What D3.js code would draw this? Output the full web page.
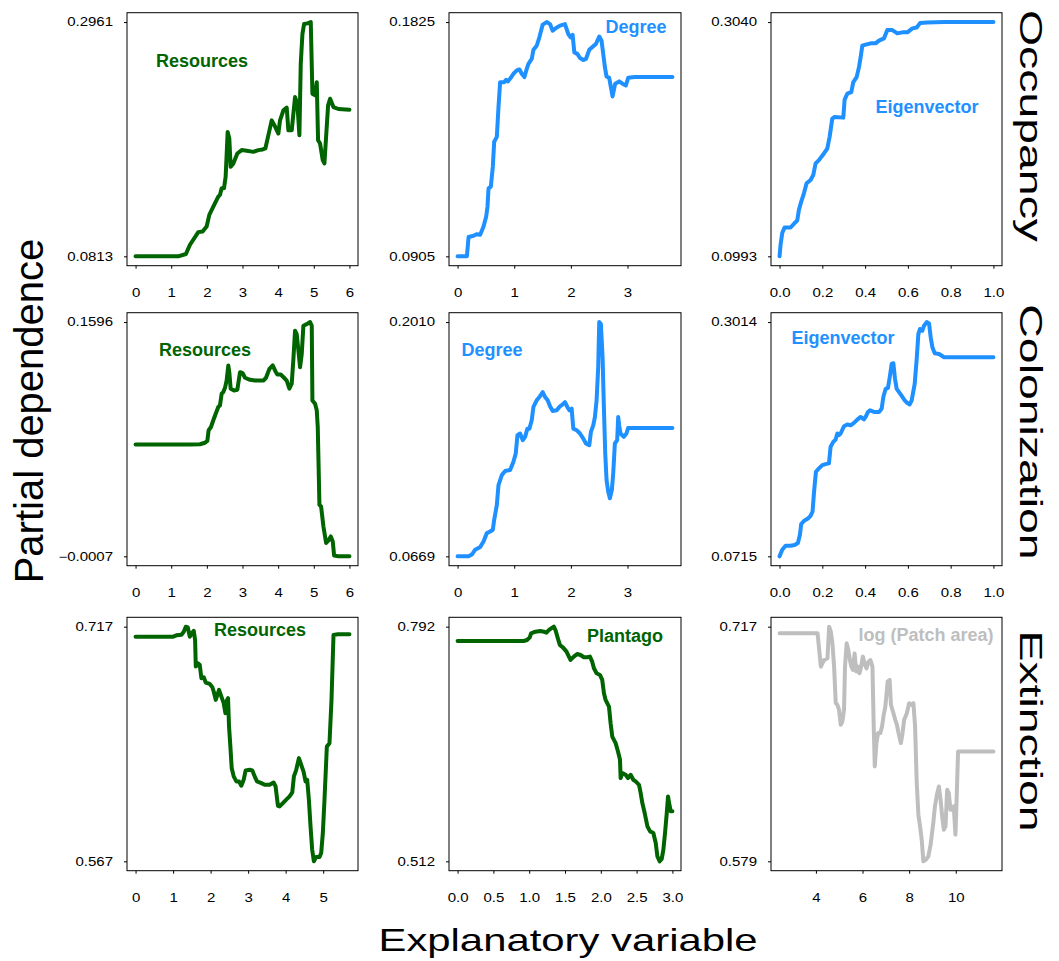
<!DOCTYPE html>
<meta charset="utf-8">
<script src="https://d3js.org/d3.v7.min.js"></script>
<style>
body { margin: 0; background: #fff; }
svg { font-family: "Liberation Sans", Arial, sans-serif; display: block; }
</style>
<div id="chart"></div>
<script>
// ---- data: partial dependence curves ----
var rowNames = ["Occupancy", "Colonization", "Extinction"];
var panelLabels = ["Resources", "Degree", "Eigenvector",
                   "Resources", "Degree", "Eigenvector",
                   "Resources", "Plantago", "log (Patch area)"];

// Occupancy ~ Resources
var occResX = [0, 1.198, 1.413, 1.526, 1.760, 1.881, 1.994, 2.069, 2.181, 2.275, 2.321, 2.368, 2.415, 2.481, 2.527, 2.584, 2.630, 2.668, 2.743, 2.855, 2.977, 3.117, 3.304, 3.445, 3.566, 3.641, 3.726, 3.819, 3.894, 4.006, 4.053, 4.147, 4.240, 4.287, 4.381, 4.474, 4.540, 4.596, 4.634, 4.681, 4.727, 4.821, 4.915, 4.961, 5.036, 5.083, 5.120, 5.176, 5.251, 5.298, 5.345, 5.401, 5.457, 5.551, 5.691, 6.0];
var occResY = [0.0813, 0.0813, 0.0834, 0.0919, 0.1035, 0.1041, 0.1087, 0.1193, 0.1269, 0.1330, 0.1361, 0.1376, 0.1437, 0.1437, 0.1543, 0.1954, 0.1893, 0.1634, 0.1665, 0.1756, 0.1787, 0.1781, 0.1771, 0.1787, 0.1793, 0.1802, 0.1924, 0.2060, 0.2015, 0.1939, 0.2060, 0.2152, 0.2176, 0.1969, 0.1969, 0.2273, 0.2212, 0.1924, 0.2578, 0.2851, 0.2943, 0.2949, 0.2961, 0.2304, 0.2289, 0.2410, 0.1878, 0.1847, 0.1695, 0.1665, 0.1908, 0.2197, 0.2258, 0.2182, 0.2164, 0.2158];

// Occupancy ~ Degree
var occDegX = [0, 0.164, 0.194, 0.282, 0.341, 0.399, 0.458, 0.505, 0.528, 0.546, 0.587, 0.622, 0.646, 0.693, 0.722, 0.751, 0.822, 0.857, 0.887, 0.939, 0.986, 1.045, 1.092, 1.133, 1.180, 1.221, 1.251, 1.309, 1.339, 1.397, 1.444, 1.503, 1.573, 1.632, 1.679, 1.738, 1.808, 1.896, 1.955, 1.996, 2.031, 2.061, 2.114, 2.161, 2.219, 2.266, 2.325, 2.395, 2.442, 2.501, 2.542, 2.601, 2.630, 2.677, 2.736, 2.783, 2.853, 2.912, 2.971, 3.012, 3.129, 3.276, 3.793];
var occDegY = [0.0905, 0.0905, 0.0981, 0.0986, 0.0992, 0.0990, 0.1022, 0.1061, 0.1100, 0.1172, 0.1179, 0.1257, 0.1355, 0.1374, 0.1491, 0.1589, 0.1589, 0.1598, 0.1592, 0.1606, 0.1622, 0.1635, 0.1639, 0.1622, 0.1609, 0.1641, 0.1661, 0.1680, 0.1716, 0.1732, 0.1765, 0.1815, 0.1825, 0.1817, 0.1791, 0.1802, 0.1811, 0.1817, 0.1778, 0.1765, 0.1775, 0.1706, 0.1700, 0.1684, 0.1676, 0.1680, 0.1716, 0.1730, 0.1739, 0.1768, 0.1752, 0.1648, 0.1611, 0.1606, 0.1533, 0.1583, 0.1592, 0.1583, 0.1576, 0.1606, 0.1609, 0.1609, 0.1609];

// Occupancy ~ Eigenvector
var occEigX = [0, 0.0047, 0.0125, 0.0234, 0.0515, 0.0702, 0.0827, 0.0905, 0.1014, 0.1139, 0.1264, 0.1451, 0.1576, 0.1685, 0.1841, 0.2075, 0.2231, 0.2340, 0.2465, 0.2574, 0.2980, 0.3042, 0.3167, 0.3354, 0.3448, 0.3604, 0.3713, 0.3791, 0.3869, 0.4025, 0.4259, 0.4493, 0.4649, 0.4883, 0.5039, 0.5273, 0.5507, 0.5741, 0.5975, 0.6209, 0.6412, 0.6568, 0.6911, 0.7691, 1.0];
var occEigY = [0.0993, 0.1094, 0.1196, 0.1245, 0.1245, 0.1283, 0.1306, 0.1399, 0.1471, 0.1544, 0.1631, 0.1660, 0.1703, 0.1805, 0.1834, 0.1892, 0.1935, 0.2037, 0.2196, 0.2211, 0.2205, 0.2362, 0.2414, 0.2428, 0.2515, 0.2559, 0.2646, 0.2733, 0.2834, 0.2843, 0.2854, 0.2854, 0.2878, 0.2898, 0.2970, 0.2970, 0.2941, 0.2950, 0.2950, 0.2985, 0.2993, 0.3031, 0.3037, 0.3040, 0.3040];

// Colonization ~ Resources
var colResX = [0, 1.526, 1.807, 1.947, 2.013, 2.050, 2.116, 2.181, 2.256, 2.321, 2.368, 2.415, 2.462, 2.509, 2.555, 2.602, 2.630, 2.668, 2.761, 2.855, 2.930, 3.005, 3.070, 3.211, 3.351, 3.585, 3.660, 3.754, 3.847, 3.922, 3.978, 4.072, 4.166, 4.240, 4.315, 4.381, 4.428, 4.474, 4.521, 4.568, 4.615, 4.662, 4.708, 4.802, 4.896, 4.943, 4.961, 5.036, 5.083, 5.111, 5.139, 5.158, 5.205, 5.270, 5.345, 5.411, 5.476, 5.532, 5.570, 5.691, 6.0];
var colResY = [0.0758, 0.0758, 0.0760, 0.0770, 0.0783, 0.0856, 0.0878, 0.0924, 0.0974, 0.1015, 0.1026, 0.1106, 0.1117, 0.1146, 0.1196, 0.1299, 0.1253, 0.1140, 0.1128, 0.1133, 0.1253, 0.1246, 0.1215, 0.1201, 0.1196, 0.1196, 0.1215, 0.1276, 0.1299, 0.1260, 0.1237, 0.1237, 0.1215, 0.1196, 0.1140, 0.1174, 0.1344, 0.1537, 0.1514, 0.1401, 0.1287, 0.1378, 0.1571, 0.1582, 0.1596, 0.1571, 0.1060, 0.1037, 0.0992, 0.0878, 0.0561, 0.0345, 0.0334, 0.0197, 0.0084, 0.0102, 0.0129, 0.0095, -0.0002, -0.0007, -0.0007];

// Colonization ~ Degree
var colDegX = [0, 0.194, 0.252, 0.311, 0.399, 0.458, 0.517, 0.575, 0.622, 0.646, 0.693, 0.722, 0.781, 0.840, 0.928, 0.986, 1.027, 1.057, 1.104, 1.151, 1.192, 1.233, 1.268, 1.309, 1.339, 1.397, 1.456, 1.503, 1.544, 1.591, 1.632, 1.679, 1.750, 1.808, 1.855, 1.896, 1.937, 1.973, 2.014, 2.043, 2.102, 2.161, 2.219, 2.266, 2.325, 2.354, 2.395, 2.425, 2.454, 2.483, 2.501, 2.530, 2.560, 2.583, 2.607, 2.630, 2.660, 2.689, 2.724, 2.748, 2.777, 2.818, 2.836, 2.853, 2.877, 2.935, 2.982, 3.012, 3.100, 3.793];
var colDegY = [0.0669, 0.0669, 0.0679, 0.0707, 0.0722, 0.0754, 0.0802, 0.0811, 0.0821, 0.0878, 0.0963, 0.1077, 0.1134, 0.1157, 0.1163, 0.1210, 0.1258, 0.1362, 0.1372, 0.1334, 0.1353, 0.1400, 0.1400, 0.1448, 0.1524, 0.1562, 0.1586, 0.1609, 0.1581, 0.1562, 0.1528, 0.1501, 0.1505, 0.1528, 0.1539, 0.1552, 0.1524, 0.1505, 0.1514, 0.1400, 0.1391, 0.1372, 0.1343, 0.1315, 0.1305, 0.1381, 0.1419, 0.1467, 0.1562, 0.1752, 0.2010, 0.1999, 0.1809, 0.1524, 0.1258, 0.1106, 0.1039, 0.1001, 0.1049, 0.1144, 0.1315, 0.1334, 0.1467, 0.1419, 0.1372, 0.1353, 0.1372, 0.1404, 0.1404, 0.1404];

// Colonization ~ Eigenvector
var colEigX = [0, 0.0125, 0.0281, 0.0515, 0.0702, 0.0858, 0.0952, 0.1014, 0.1170, 0.1326, 0.1451, 0.1544, 0.1607, 0.1700, 0.1841, 0.1997, 0.2153, 0.2309, 0.2387, 0.2512, 0.2621, 0.2699, 0.2777, 0.2855, 0.3011, 0.3167, 0.3323, 0.3479, 0.3635, 0.3791, 0.3947, 0.4025, 0.4134, 0.4228, 0.4415, 0.4649, 0.4774, 0.4852, 0.4961, 0.5070, 0.5164, 0.5242, 0.5320, 0.5398, 0.5476, 0.5585, 0.5694, 0.5850, 0.5975, 0.6084, 0.6178, 0.6318, 0.6412, 0.6490, 0.6568, 0.6677, 0.6755, 0.6880, 0.6989, 0.7067, 0.7145, 0.7254, 0.7457, 0.7691, 1.0];
var colEigY = [0.0715, 0.0780, 0.0819, 0.0819, 0.0826, 0.0845, 0.0927, 0.1034, 0.1067, 0.1086, 0.1112, 0.1155, 0.1334, 0.1545, 0.1578, 0.1610, 0.1620, 0.1627, 0.1790, 0.1838, 0.1861, 0.1920, 0.1904, 0.1920, 0.1992, 0.2008, 0.2001, 0.2024, 0.2057, 0.2083, 0.2060, 0.2083, 0.2132, 0.2148, 0.2132, 0.2132, 0.2164, 0.2278, 0.2359, 0.2369, 0.2490, 0.2604, 0.2610, 0.2457, 0.2359, 0.2327, 0.2294, 0.2246, 0.2219, 0.2206, 0.2246, 0.2408, 0.2653, 0.2897, 0.2946, 0.2929, 0.2978, 0.3014, 0.3001, 0.2864, 0.2767, 0.2708, 0.2701, 0.2669, 0.2669];

// Extinction ~ Resources
var extResX = [0, 1.002, 1.090, 1.223, 1.285, 1.339, 1.392, 1.445, 1.498, 1.551, 1.587, 1.605, 1.667, 1.711, 1.755, 1.817, 1.871, 1.977, 2.048, 2.083, 2.137, 2.181, 2.225, 2.287, 2.349, 2.394, 2.438, 2.465, 2.491, 2.527, 2.562, 2.615, 2.686, 2.757, 2.819, 2.881, 2.934, 3.041, 3.112, 3.174, 3.236, 3.351, 3.440, 3.573, 3.679, 3.732, 3.794, 3.839, 3.927, 4.016, 4.105, 4.176, 4.220, 4.282, 4.353, 4.415, 4.477, 4.530, 4.574, 4.619, 4.663, 4.707, 4.752, 4.814, 4.902, 4.947, 4.991, 5.035, 5.098, 5.168, 5.222, 5.275, 5.390, 5.700];
var extResY = [0.7106, 0.7106, 0.7115, 0.7119, 0.7138, 0.7170, 0.7166, 0.7106, 0.7127, 0.7144, 0.7085, 0.6915, 0.6936, 0.6925, 0.6840, 0.6847, 0.6813, 0.6804, 0.6783, 0.6755, 0.6702, 0.6734, 0.6766, 0.6723, 0.6681, 0.6617, 0.6702, 0.6713, 0.6532, 0.6404, 0.6266, 0.6213, 0.6181, 0.6181, 0.6153, 0.6191, 0.6251, 0.6255, 0.6251, 0.6213, 0.6181, 0.6170, 0.6159, 0.6159, 0.6174, 0.6149, 0.6025, 0.6021, 0.6042, 0.6064, 0.6085, 0.6110, 0.6213, 0.6255, 0.6330, 0.6287, 0.6244, 0.6181, 0.6191, 0.6064, 0.5893, 0.5744, 0.5670, 0.5698, 0.5698, 0.5723, 0.5851, 0.6064, 0.6404, 0.6425, 0.6702, 0.7117, 0.7121, 0.7121];

// Extinction ~ Plantago
var extPlaX = [0, 0.924, 0.970, 1.008, 1.026, 1.087, 1.157, 1.204, 1.241, 1.274, 1.306, 1.344, 1.367, 1.400, 1.428, 1.474, 1.521, 1.554, 1.577, 1.624, 1.670, 1.717, 1.764, 1.810, 1.848, 1.880, 1.904, 1.941, 1.988, 2.020, 2.044, 2.067, 2.114, 2.137, 2.160, 2.207, 2.240, 2.268, 2.277, 2.300, 2.347, 2.380, 2.417, 2.454, 2.487, 2.534, 2.557, 2.580, 2.613, 2.651, 2.688, 2.734, 2.767, 2.790, 2.823, 2.851, 2.874, 2.897, 2.921, 2.939, 2.958, 2.977, 3.0];
var extPlaY = [0.7749, 0.7749, 0.7761, 0.7793, 0.7841, 0.7860, 0.7868, 0.7860, 0.7848, 0.7880, 0.7900, 0.7920, 0.7880, 0.7781, 0.7702, 0.7670, 0.7622, 0.7563, 0.7523, 0.7563, 0.7594, 0.7582, 0.7555, 0.7555, 0.7563, 0.7503, 0.7424, 0.7364, 0.7344, 0.7285, 0.7126, 0.7046, 0.6967, 0.6768, 0.6609, 0.6530, 0.6431, 0.6331, 0.6113, 0.6172, 0.6153, 0.6113, 0.6153, 0.6093, 0.6073, 0.6033, 0.5934, 0.5815, 0.5696, 0.5537, 0.5477, 0.5458, 0.5338, 0.5180, 0.5120, 0.5148, 0.5259, 0.5458, 0.5696, 0.5894, 0.5795, 0.5716, 0.5716];

// Extinction ~ log (Patch area)
var extAreaX = [2.440, 4.071, 4.142, 4.213, 4.284, 4.355, 4.496, 4.567, 4.638, 4.709, 4.780, 4.851, 4.922, 4.993, 5.064, 5.135, 5.206, 5.248, 5.319, 5.390, 5.461, 5.518, 5.589, 5.660, 5.730, 5.801, 5.872, 5.943, 6.014, 6.085, 6.170, 6.255, 6.340, 6.426, 6.482, 6.525, 6.596, 6.667, 6.766, 6.837, 6.908, 6.979, 7.078, 7.163, 7.220, 7.305, 7.404, 7.475, 7.546, 7.645, 7.716, 7.787, 7.901, 8.000, 8.099, 8.184, 8.255, 8.326, 8.397, 8.468, 8.539, 8.610, 8.723, 8.823, 8.922, 9.035, 9.106, 9.206, 9.277, 9.348, 9.418, 9.489, 9.560, 9.631, 9.702, 9.773, 9.844, 9.915, 9.986, 10.028, 10.099, 10.241, 11.617];
var extAreaY = [0.7131, 0.7131, 0.7033, 0.6935, 0.6955, 0.6974, 0.6984, 0.7170, 0.7141, 0.7072, 0.6935, 0.6720, 0.6710, 0.6681, 0.6593, 0.6612, 0.6681, 0.6935, 0.7072, 0.7033, 0.6974, 0.6935, 0.6916, 0.7013, 0.6906, 0.6935, 0.6896, 0.6935, 0.6994, 0.6955, 0.6925, 0.6964, 0.6974, 0.6935, 0.6573, 0.6348, 0.6485, 0.6544, 0.6544, 0.6583, 0.6651, 0.6700, 0.6847, 0.6857, 0.6710, 0.6671, 0.6622, 0.6593, 0.6544, 0.6485, 0.6544, 0.6622, 0.6661, 0.6720, 0.6710, 0.6720, 0.6583, 0.6250, 0.6064, 0.5996, 0.5917, 0.5790, 0.5800, 0.5819, 0.5888, 0.6015, 0.6113, 0.6191, 0.6230, 0.6152, 0.6054, 0.5976, 0.5996, 0.6211, 0.6191, 0.6093, 0.6093, 0.6113, 0.5947, 0.6113, 0.6436, 0.6436, 0.6436];

// y tick values (min and max of each curve) and their printed labels
var yTickLo = [0.0813, 0.0905, 0.0993, -0.0007, 0.0669, 0.0715, 0.567, 0.512, 0.579];
var yTickHi = [0.2961, 0.1825, 0.3040, 0.1596, 0.2010, 0.3014, 0.717, 0.792, 0.717];
var yTickText = [["0.0813", "0.2961"], ["0.0905", "0.1825"], ["0.0993", "0.3040"],
                 ["\u22120.0007", "0.1596"], ["0.0669", "0.2010"], ["0.0715", "0.3014"],
                 ["0.567", "0.717"], ["0.512", "0.792"], ["0.579", "0.717"]];

// x tick values
var xTicksRes = [0, 1, 2, 3, 4, 5, 6];
var xTicksDeg = [0, 1, 2, 3];
var xTicksEig = [0, 0.2, 0.4, 0.6, 0.8, 1.0];
var xTicksExtRes = [0, 1, 2, 3, 4, 5];
var xTicksPla = [0, 0.5, 1, 1.5, 2, 2.5, 3];
var xTicksArea = [4, 6, 8, 10];

var green = "#006400", blue = "#1E90FF", grey = "#BEBEBE";

// ---- layout ----
var colLeft = [127, 449, 771], colRight = [358, 681, 1002];
var rowTop = [12.7, 312.7, 617.3], rowBottom = [265.7, 565.7, 870.7];

var panels = [
  { xs: occResX, ys: occResY, ticks: xTicksRes, fmt: d3.format("d"), color: green, lab: [75, 48] },
  { xs: occDegX, ys: occDegY, ticks: xTicksDeg, fmt: d3.format("d"), color: blue, lab: [187, 14] },
  { xs: occEigX, ys: occEigY, ticks: xTicksEig, fmt: d3.format(".1f"), color: blue, lab: [156, 94] },
  { xs: colResX, ys: colResY, ticks: xTicksRes, fmt: d3.format("d"), color: green, lab: [78, 37] },
  { xs: colDegX, ys: colDegY, ticks: xTicksDeg, fmt: d3.format("d"), color: blue, lab: [43, 37] },
  { xs: colEigX, ys: colEigY, ticks: xTicksEig, fmt: d3.format(".1f"), color: blue, lab: [72, 25] },
  { xs: extResX, ys: extResY, ticks: xTicksExtRes, fmt: d3.format("d"), color: green, lab: [133, 12] },
  { xs: extPlaX, ys: extPlaY, ticks: xTicksPla, fmt: d3.format(".1f"), color: green, lab: [176, 18] },
  { xs: extAreaX, ys: extAreaY, ticks: xTicksArea, fmt: d3.format("d"), color: grey, lab: [155, 17] }
];

var svg = d3.select("#chart").append("svg")
  .attr("width", 1059).attr("height", 961);

// R style axis range: data range plus 4% on each side
function padded(lo, hi) {
  var p = (hi - lo) * 0.04;
  return [lo - p, hi + p];
}

panels.forEach(function(p, i) {
  var r = Math.floor(i / 3), c = i % 3;
  var left = colLeft[c], right = colRight[c], top = rowTop[r], bottom = rowBottom[r];

  var x = d3.scaleLinear().domain(padded(d3.min(p.xs), d3.max(p.xs))).range([left, right]);
  var y = d3.scaleLinear().domain(padded(yTickLo[i], yTickHi[i])).range([bottom, top]);

  var g = svg.append("g");

  // x axis
  var gx = g.append("g")
    .attr("transform", "translate(0," + bottom + ")")
    .call(d3.axisBottom(x).tickValues(p.ticks).tickFormat(p.fmt).tickSize(3).tickPadding(20));
  gx.select(".domain").remove();
  gx.selectAll("line").attr("stroke", "#000");
  gx.selectAll("text")
    .attr("font-size", 12)
    .attr("fill", "#000")
    .attr("transform", "scale(1.25,1)");

  // y axis, ticks only at min and max
  var gy = g.append("g")
    .attr("transform", "translate(" + left + ",0)")
    .call(d3.axisLeft(y).tickValues([yTickLo[i], yTickHi[i]])
      .tickFormat(function(d, k) { return yTickText[i][k]; })
      .tickSize(3));
  gy.select(".domain").remove();
  gy.selectAll("line").attr("stroke", "#000");
  gy.selectAll("text")
    .attr("font-size", 12)
    .attr("fill", "#000")
    .attr("x", -14 / 1.25)
    .attr("transform", "scale(1.25,1)");

  // box
  g.append("rect")
    .attr("x", left).attr("y", top)
    .attr("width", right - left).attr("height", bottom - top)
    .attr("fill", "none").attr("stroke", "#000").attr("stroke-width", 1);

  var line = d3.line()
    .x(function(d, k) { return x(p.xs[k]); })
    .y(function(d, k) { return y(p.ys[k]); });

  g.append("path")
    .datum(p.ys)
    .attr("d", line)
    .attr("fill", "none")
    .attr("stroke", p.color)
    .attr("stroke-width", 4)
    .attr("stroke-linejoin", "round")
    .attr("stroke-linecap", "round");

  g.append("text")
    .attr("x", left + p.lab[0]).attr("y", top + p.lab[1] + 6.5)
    .attr("text-anchor", "middle")
    .attr("font-size", 18).attr("font-weight", "bold")
    .attr("fill", p.color)
    .text(panelLabels[i]);
});

// row labels on the right
var rowCenters = [126, 432, 731];
rowNames.forEach(function(name, r) {
  svg.append("text")
    .attr("transform", "translate(1020," + rowCenters[r] + ") rotate(90) scale(1.45,1)")
    .attr("text-anchor", "middle")
    .attr("font-size", 32)
    .attr("fill", "#000")
    .text(name);
});

// axis titles
svg.append("text")
  .attr("transform", "translate(43,411) rotate(-90)")
  .attr("text-anchor", "middle")
  .attr("font-size", 40)
  .text("Partial dependence");

svg.append("text")
  .attr("transform", "translate(568,951) scale(1.35,1)")
  .attr("text-anchor", "middle")
  .attr("font-size", 31)
  .text("Explanatory variable");
</script>
